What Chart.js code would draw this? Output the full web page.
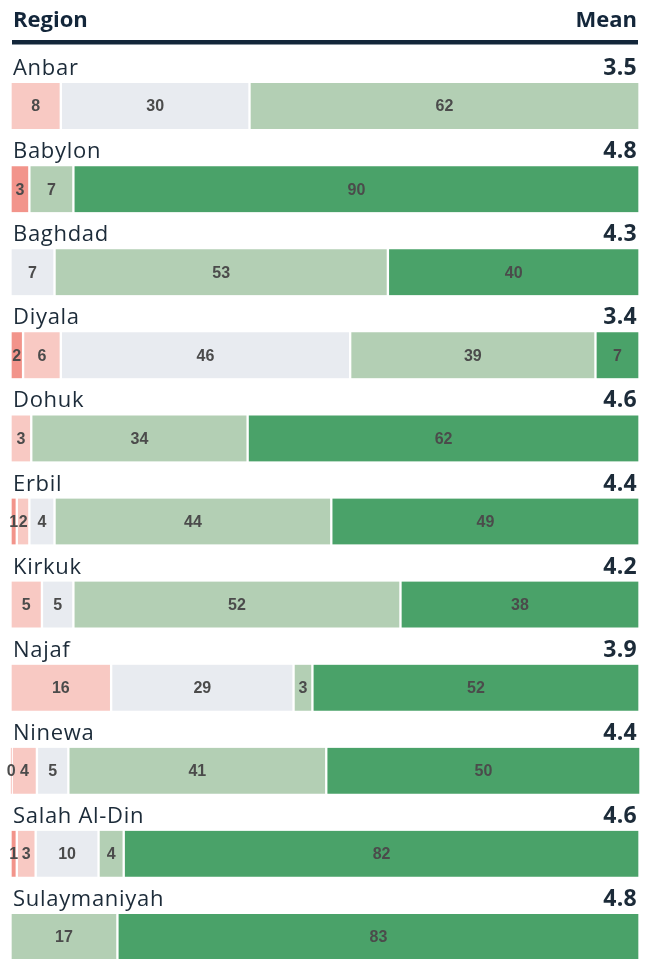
<!DOCTYPE html>
<html>
<head>
<meta charset="utf-8">
<script src="https://cdn.jsdelivr.net/npm/chart.js@4"></script>
<style>
  html, body { margin: 0; padding: 0; background: #fff; overflow: hidden; }
  canvas { display: block; }
</style>
</head>
<body>
<canvas id="c" width="653" height="980"></canvas>
<script>
const regions = ['Anbar','Babylon','Baghdad','Diyala','Dohuk','Erbil','Kirkuk','Najaf','Ninewa','Salah Al-Din','Sulaymaniyah'];
const means = ['3.5','4.8','4.3','3.4','4.6','4.4','4.2','3.9','4.4','4.6','4.8'];
const stronglyNegative = [null, 3, null, 2, null, 1, null, null, 0.2, 1, null];
const negative         = [8, null, null, 6, 3.3, 2, 5, 16, 4, 3, null];
const neutral          = [30, null, 7, 46, null, 4, 5, 29, 5, 10, null];
const positive         = [62, 7, 53, 39, 34.4, 44, 52, 3, 41, 4, 17];
const stronglyPositive = [null, 90, 40, 7, 62.3, 49, 38, 52, 50, 82, 83];
const headerLeft = 'Region';
const headerRight = 'Mean';

const colors = ['#f2948b', '#f8c9c3', '#e8ebf0', '#b3cfb4', '#4aa269'];
const seriesNames = ['Strongly negative','Negative','Neutral','Positive','Strongly positive'];
const seriesData = [stronglyNegative, negative, neutral, positive, stronglyPositive];

const BAR_H = 46;

const overlay = {
  id: 'overlay',
  afterDatasetsDraw(chart) {
    const ctx = chart.ctx;
    ctx.save();
    ctx.fillStyle = '#4b4b4b';
    ctx.font = 'bold 16px "Liberation Sans", Arial, sans-serif';
    ctx.textAlign = 'center';
    ctx.textBaseline = 'middle';
    chart.data.datasets.forEach((ds, i) => {
      const meta = chart.getDatasetMeta(i);
      meta.data.forEach((el, j) => {
        const v = ds.data[j];
        if (v === null || v === undefined) return;
        const cx = (el.x + el.base) / 2;
        ctx.fillText(String(Math.round(v)), cx, el.y + 1);
      });
    });
    ctx.restore();
  },
  afterDraw(chart) {
    const ctx = chart.ctx;
    const yScale = chart.scales.y;
    ctx.save();
    // header
    ctx.fillStyle = '#13263a';
    ctx.font = 'bold 22px "Open Sans", sans-serif';
    ctx.textBaseline = 'alphabetic';
    ctx.letterSpacing = '0px';
    ctx.textAlign = 'left';
    ctx.fillText(headerLeft, 13, 27);
    ctx.textAlign = 'right';
    ctx.fillText(headerRight, 637, 27);
    ctx.fillRect(12, 40, 626, 4.5);
    // row labels
    regions.forEach((r, j) => {
      const y = yScale.getPixelForValue(j);
      const base = y - BAR_H / 2 - 8;
      ctx.fillStyle = '#1c2b39';
      ctx.textAlign = 'left';
      ctx.letterSpacing = '0.7px';
      ctx.font = '22px "Open Sans", sans-serif';
      ctx.fillText(r, 13, base);
      ctx.textAlign = 'right';
      ctx.letterSpacing = '0.3px';
      ctx.font = 'bold 23px "Open Sans", sans-serif';
      ctx.fillText(means[j], 637, base);
    });
    ctx.restore();
  }
};

new Chart(document.getElementById('c'), {
  type: 'bar',
  data: {
    labels: regions,
    datasets: seriesData.map((d, i) => ({
      label: seriesNames[i],
      data: d,
      backgroundColor: colors[i],
      borderColor: '#ffffff',
      borderWidth: { left: 1.5, right: 1.5, top: 0, bottom: 0 },
      borderSkipped: false,
      barThickness: BAR_H
    }))
  },
  options: {
    indexAxis: 'y',
    responsive: false,
    animation: false,
    layout: { padding: { left: 10.5, right: 13.5, top: 64.5, bottom: 1.5 } },
    scales: {
      x: { stacked: true, min: 0, max: 100, display: false },
      y: { stacked: true, display: false }
    },
    plugins: { legend: { display: false }, tooltip: { enabled: false } }
  },
  plugins: [overlay]
});
</script>
</body>
</html>
